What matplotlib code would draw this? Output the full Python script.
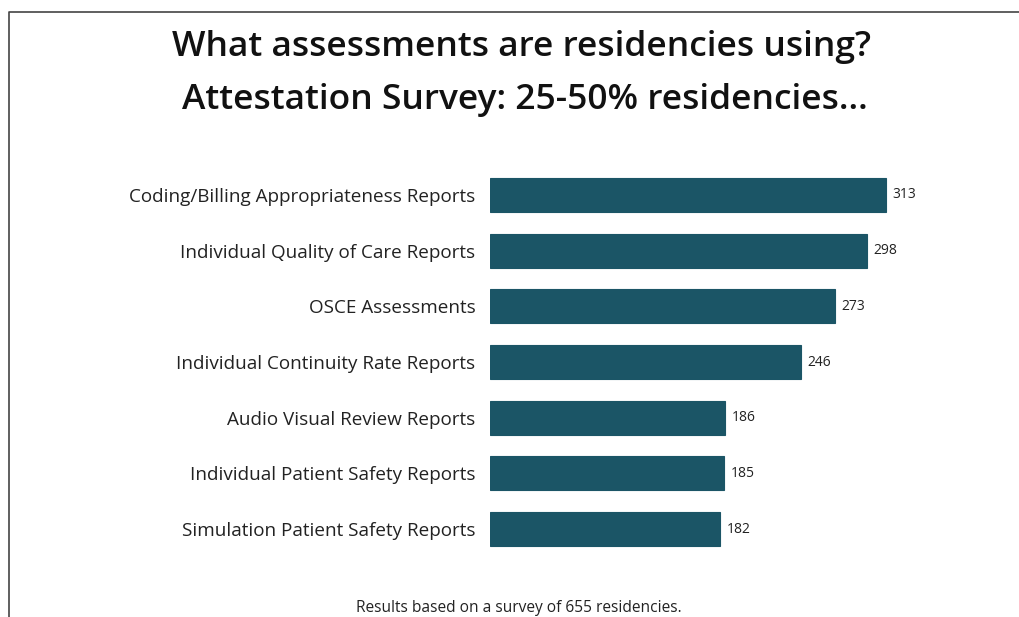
import matplotlib.pyplot as plt
from matplotlib.lines import Line2D

# survey counts
categories = ['Coding/Billing Appropriateness Reports', 'Individual Quality of Care Reports',
              'OSCE Assessments', 'Individual Continuity Rate Reports',
              'Audio Visual Review Reports', 'Individual Patient Safety Reports',
              'Simulation Patient Safety Reports']
counts = [313, 298, 273, 246, 186, 185, 182]

plt.rcParams['font.family'] = ['Open Sans', 'DejaVu Sans']

W, H = 1019, 617
fig = plt.figure(figsize=(W / 100, H / 100), dpi=100)
ax = fig.add_axes([490 / W, 1 - 557 / H, 400 * 1.265 / W, 390 / H])

pos = list(range(len(categories)))
ax.barh(pos, counts, height=0.61, color='#1b5566', edgecolor='#1b5566', linewidth=0.8)
for p, c in zip(pos, counts):
    ax.text(c + 5, p, str(c), va='center', ha='left', fontsize=10, color='#222222')

ax.set_yticks(pos)
ax.set_yticklabels(categories, fontsize=13.6, color='#222222')
ax.tick_params(axis='y', length=0, pad=10.5)
ax.set_xticks([])
ax.set_xlim(0, 400)
ax.set_ylim(6.5, -0.5)
for s in ax.spines.values():
    s.set_visible(False)

fig.text(522 / W, 1 - 47 / H, 'What assessments are residencies using?', ha='center', va='center',
         fontsize=25.5, fontweight='semibold', color='#111111')
fig.text(525 / W, 1 - 100 / H, 'Attestation Survey: 25-50% residencies...', ha='center', va='center',
         fontsize=25.5, fontweight='semibold', color='#111111')
fig.text(519 / W, 1 - 608 / H, 'Results based on a survey of 655 residencies.', ha='center', va='center',
         fontsize=11.2, color='#222222')

# frame line on left and top
fig.add_artist(Line2D([9 / W, 9 / W, 1], [0, 1 - 12 / H, 1 - 12 / H], color='#444444', linewidth=1.2))

fig.savefig('out.png', dpi=100)
